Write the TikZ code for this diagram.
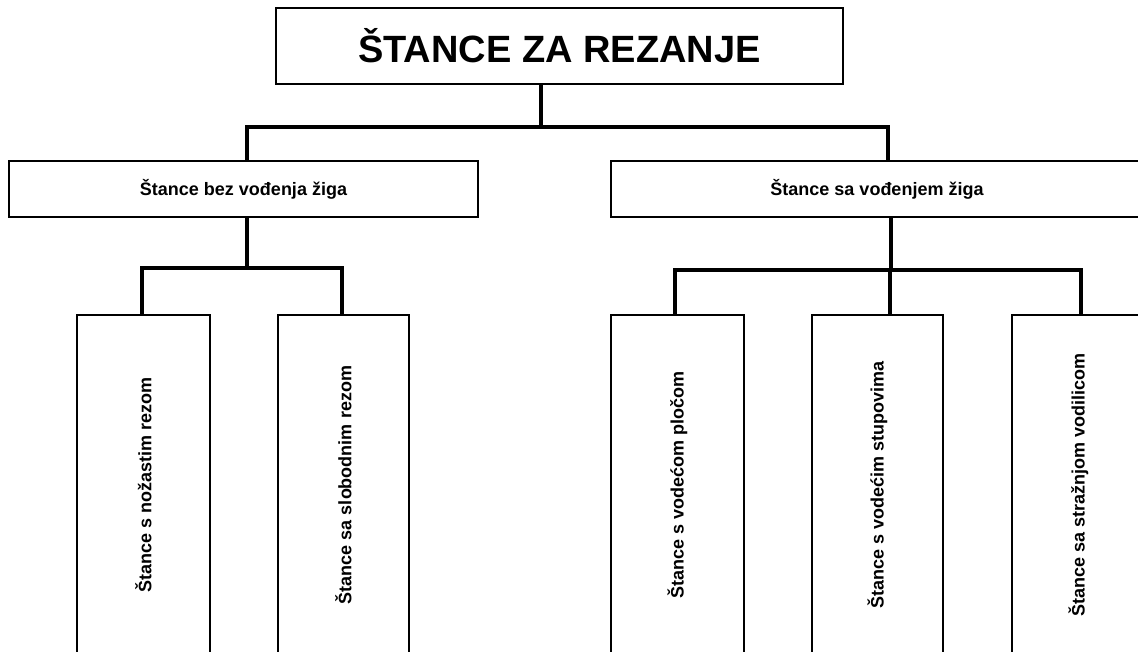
\documentclass[tikz,border=0pt]{standalone}
\usepackage{fontspec}
\setmainfont{Liberation Sans}
\usepackage{tikz}

\begin{document}
\begin{tikzpicture}[x=1pt,y=-1pt,
	box/.style={draw=black,line width=1.8pt,inner sep=0pt,font=\bfseries\fontsize{18}{20}\selectfont},
	leaf/.style={box,rotate=90,minimum width=340pt},
	link/.style={draw=black,line width=3.6pt}]
		\useasboundingbox (0,0) rectangle (1138,651);
		\clip (0,0) rectangle (1138,651);
		\node[box,minimum width=567pt,minimum height=76pt,font=\bfseries\fontsize{38}{40}\selectfont] (title) at (559.5,46) {ŠTANCE ZA REZANJE};
		\node[box,minimum width=469pt,minimum height=56pt] (bez) at (243.5,189) {Štance bez vođenja žiga};
		\node[box,minimum width=532pt,minimum height=56pt] (sa) at (877,189) {Štance sa vođenjem žiga};
		\node[leaf,minimum height=133pt] (nozasti) at (143.5,485) {Štance s nožastim rezom};
		\node[leaf,minimum height=131pt] (slobodni) at (343.5,485) {Štance sa slobodnim rezom};
		\node[leaf,minimum height=133pt] (plocom) at (677.5,485) {Štance s vodećom pločom};
		\node[leaf,minimum height=131pt] (stupovi) at (877.5,485) {Štance s vodećim stupovima};
		\node[leaf,minimum height=133pt] (vodilica) at (1078.5,485) {Štance sa stražnjom vodilicom};
		\draw[link] ([xshift=-18.5pt]title.south) -- ++(0,42) coordinate (top) -| ([xshift=3.5pt]bez.north);
		\draw[link] (top) -| ([xshift=11pt]sa.north);
		\draw[link] ([xshift=3.5pt]bez.south) -- ++(0,50) coordinate (forkbez) -| ([xshift=-1.5pt]nozasti.east);
		\draw[link] (forkbez) -| ([xshift=-1.5pt]slobodni.east);
		\draw[link] ([xshift=14pt]sa.south) -- ++(0,52) coordinate (forksa) -| ([xshift=-2.5pt]plocom.east);
		\draw[link] (forksa) -| ([xshift=12.5pt]stupovi.east);
		\draw[link] (forksa) -| ([xshift=2.5pt]vodilica.east);
	\end{tikzpicture}
\end{document}
